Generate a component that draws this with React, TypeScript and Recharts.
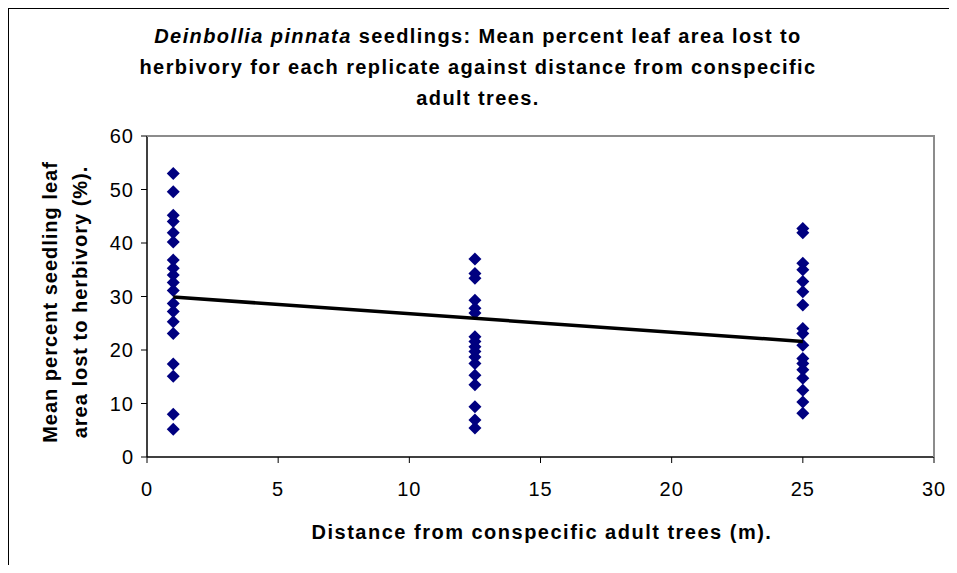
import React from "react";
import { ScatterChart, Scatter, XAxis, YAxis } from "recharts";

// distances (m) of the three replicate groups
const distances = [1, 12.5, 25];

// mean percent leaf area lost
const lossAt1m = [53, 49.6, 45.2, 44, 41.9, 40.2, 36.8, 35.3, 34, 32.6, 31.1, 28.7, 27.2, 25.3, 23.1, 17.4, 15.1, 8, 5.2];
const lossAt12m = [37, 34.3, 33.4, 29.3, 27.8, 26.9, 22.5, 21.6, 20.6, 19.7, 18.7, 17.5, 15.3, 13.5, 9.4, 6.9, 5.4];
const lossAt25m = [42.7, 41.9, 36.2, 35, 32.8, 30.9, 28.4, 24, 23.1, 20.9, 18.4, 17.5, 16.3, 14.7, 12.5, 10.3, 8.2];

// linear trend line end points
const trendX = [1, 25];
const trendY = [29.9, 21.6];

const xTicks = [0, 5, 10, 15, 20, 25, 30];
const yTicks = [0, 10, 20, 30, 40, 50, 60];

const points = [lossAt1m, lossAt12m, lossAt25m].flatMap((vals, i) =>
  vals.map((v) => ({ x: distances[i], y: v }))
);
const trend = trendX.map((x, i) => ({ x, y: trendY[i] }));

const FONT = "'Liberation Sans', Arial, sans-serif";
const W = 949;
const H = 557;

const Diamond = (props: any) => {
  const { cx, cy } = props;
  if (cx == null || cy == null) return <g />;
  const r = 6.5;
  return (
    <polygon
      points={`${cx},${cy - r} ${cx + r},${cy} ${cx},${cy + r} ${cx - r},${cy}`}
      fill="#000080"
    />
  );
};

const tickStyle = { fontSize: 20, fill: "#000", fontFamily: FONT, letterSpacing: 1 };

export default function App() {
  return (
    <div style={{ position: "relative", width: W, height: H, background: "#fff" }}>
      <ScatterChart
        width={W}
        height={H}
        margin={{ top: 128, right: 23, bottom: 68, left: 0 }}
      >
        <XAxis
          type="number"
          dataKey="x"
          domain={[0, 30]}
          ticks={xTicks}
          height={40}
          tickSize={6}
          tickMargin={19}
          axisLine={{ stroke: "#000", strokeWidth: 1.5 }}
          tickLine={{ stroke: "#000" }}
          tick={tickStyle}
          allowDataOverflow
        />
        <YAxis
          type="number"
          dataKey="y"
          domain={[0, 60]}
          ticks={yTicks}
          width={139}
          tickSize={6}
          tickMargin={7}
          axisLine={{ stroke: "#000", strokeWidth: 1.5 }}
          tickLine={{ stroke: "#000" }}
          tick={tickStyle}
          allowDataOverflow
        />
        <Scatter data={points} shape={Diamond} isAnimationActive={false} />
        <Scatter
          data={trend}
          line={{ stroke: "#000", strokeWidth: 3.5 }}
          lineType="joint"
          shape={() => <g />}
          isAnimationActive={false}
        />
      </ScatterChart>
      <svg
        width={W}
        height={H}
        style={{ position: "absolute", left: 0, top: 0, pointerEvents: "none" }}
      >
        <rect x={0.5} y={0.5} width={W + 20} height={H + 20} fill="none" stroke="#000" strokeWidth={1} />
        <polyline points="139,128 926,128 926,449" fill="none" stroke="#8c8c8c" strokeWidth={2} />
        <text
          textAnchor="middle"
          fontFamily={FONT}
          fontWeight="bold"
          fontSize={20}
          letterSpacing={1.4}
        >
          <tspan x={470} y={35}>
            <tspan fontStyle="italic">Deinbollia pinnata</tspan> seedlings: Mean percent leaf area lost to
          </tspan>
          <tspan x={470} y={66}>herbivory for each replicate against distance from conspecific</tspan>
          <tspan x={470} y={97}>adult trees.</tspan>
        </text>
        <text
          x={534}
          y={531}
          textAnchor="middle"
          fontFamily={FONT}
          fontWeight="bold"
          fontSize={20}
          letterSpacing={1.5}
        >
          Distance from conspecific adult trees (m).
        </text>
        <g transform="translate(0,294) rotate(-90)">
          <text
            textAnchor="middle"
            fontFamily={FONT}
            fontWeight="bold"
            fontSize={20}
            letterSpacing={1}
          >
            <tspan x={0} y={49}>Mean percent seedling leaf</tspan>
            <tspan x={0} y={79}>area lost to herbivory (%).</tspan>
          </text>
        </g>
      </svg>
    </div>
  );
}
